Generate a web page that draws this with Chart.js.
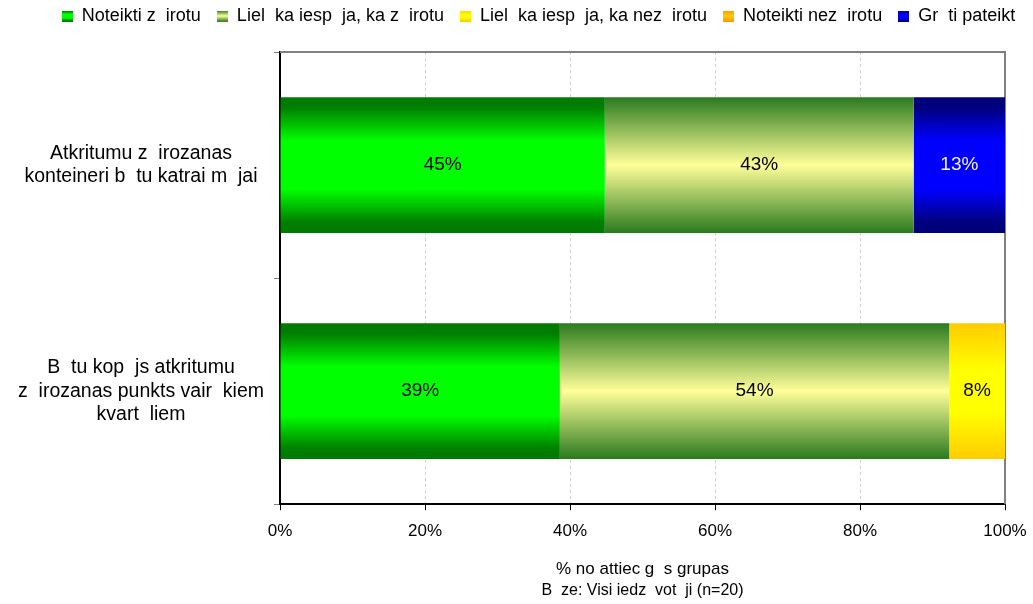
<!DOCTYPE html>
<html>
<head>
<meta charset="utf-8">
<script src="https://cdn.jsdelivr.net/npm/chart.js@4/dist/chart.umd.min.js"></script>
<style>
html,body{margin:0;padding:0;background:#fff;}
#wrap{width:1033px;height:604px;}
</style>
</head>
<body>
<div id="wrap"><canvas id="c" width="1033" height="604"></canvas></div>
<script>
const categories = [
  ["Atkritumu z  irozanas", "konteineri b  tu katrai m  jai"],
  ["B  tu kop  js atkritumu", "z  irozanas punkts vair  kiem", "kvart  liem"]
];
const seriesNames = [
  "Noteikti z  irotu",
  "Liel  ka iesp  ja, ka z  irotu",
  "Liel  ka iesp  ja, ka nez  irotu",
  "Noteikti nez  irotu",
  "Gr  ti pateikt"
];
const noteiktiZ = [44.8, 38.6];
const lielakaZ = [42.6, 53.7];
const lielakaNez = [0, 7.7];
const noteiktiNez = [0, 0];
const grutiPateikt = [12.6, 0];
const xTicks = ["0%", "20%", "40%", "60%", "80%", "100%"];
const xTitle = "% no attiec g  s grupas";
const baseNote = "B  ze: Visi iedz  vot  ji (n=20)";

const gradStops = [
  [[0,'#007800'],[0.08,'#008000'],[0.32,'#00ff00'],[0.68,'#00ff00'],[0.92,'#008000'],[1,'#007800']],
  [[0,'#2a7a1e'],[0.5,'#ffff99'],[1,'#2a7a1e']],
  [[0,'#ffcc00'],[0.35,'#ffff00'],[0.65,'#ffff00'],[1,'#ffcc00']],
  [[0,'#ff9900'],[0.5,'#ffcc00'],[1,'#ff9900']],
  [[0,'#000078'],[0.08,'#000080'],[0.32,'#0000ff'],[0.68,'#0000ff'],[0.92,'#000080'],[1,'#000078']]
];
const labelColors = ['#000','#000','#000','#000','#f0f0ff'];

function makeIcon(stops){
  const cv = document.createElement('canvas');
  cv.width = 11; cv.height = 11;
  const g = cv.getContext('2d');
  const gr = g.createLinearGradient(0,0,0,11);
  stops.forEach(s=>gr.addColorStop(s[0],s[1]));
  g.fillStyle = gr; g.fillRect(0,0,11,11);
  return cv;
}
const icons = gradStops.map(makeIcon);

const BAR_PCT = 0.6;
function barGradient(ctx, dsIdx){
  const chart = ctx.chart;
  const y = chart.scales && chart.scales.y;
  if (!y || !chart.chartArea || ctx.dataIndex === undefined) return gradStops[dsIdx][1][1];
  const c = y.getPixelForValue(ctx.dataIndex);
  const h = (chart.chartArea.bottom - chart.chartArea.top) / categories.length * BAR_PCT;
  const gr = chart.ctx.createLinearGradient(0, c - h/2, 0, c + h/2);
  gradStops[dsIdx].forEach(s=>gr.addColorStop(s[0], s[1]));
  return gr;
}

const seriesData = [noteiktiZ, lielakaZ, lielakaNez, noteiktiNez, grutiPateikt];
const datasets = seriesData.map((d,i)=>({
  label: seriesNames[i],
  data: d,
  backgroundColor: (ctx)=>barGradient(ctx,i),
  borderWidth: 0,
  barPercentage: BAR_PCT,
  categoryPercentage: 1.0
}));

const FONT = "'Liberation Sans', Arial, sans-serif";

const legendHeightPlugin = {
  id: 'legendHeight',
  beforeInit(chart){
    const lg = chart.legend;
    if (!lg) return;
    const fit = lg.fit;
    lg.fit = function(){ fit.call(this); this.height = 61; };
    const draw = lg.draw;
    lg.draw = function(){
      const c = this.ctx;
      c.save(); c.translate(22, 0); draw.call(this); c.restore();
    };
  }
};

const framePlugin = {
  id: 'frame',
  beforeDatasetsDraw(chart){
    const a = chart.chartArea, c = chart.ctx;
    c.save();
    c.strokeStyle = '#808080';
    c.lineWidth = 2;
    c.beginPath();
    c.moveTo(a.left, a.top);
    c.lineTo(a.right, a.top);
    c.lineTo(a.right, a.bottom);
    c.stroke();
    c.restore();
  },
  afterDatasetsDraw(chart){
    const c = chart.ctx;
    c.save();
    c.font = "19px " + FONT;
    c.textAlign = 'center';
    c.textBaseline = 'middle';
    chart.data.datasets.forEach((ds, i)=>{
      const meta = chart.getDatasetMeta(i);
      meta.data.forEach((bar, j)=>{
        const v = ds.data[j];
        if (!v) return;
        const x = (bar.x + bar.base) / 2;
        c.fillStyle = labelColors[i];
        c.fillText(Math.round(v) + '%', x, bar.y);
      });
    });
    c.restore();
  },
  afterDraw(chart){
    const a = chart.chartArea, c = chart.ctx;
    c.save();
    c.font = "16px " + FONT;
    c.fillStyle = '#000';
    c.textAlign = 'center';
    c.textBaseline = 'middle';
    c.fillText(baseNote, (a.left + a.right)/2, 591);
    c.restore();
  }
};

new Chart(document.getElementById('c'), {
  type: 'bar',
  data: { labels: categories, datasets },
  options: {
    indexAxis: 'y',
    responsive: false,
    animation: false,
    layout: { padding: { left: 0, right: 0, top: -9, bottom: 24 } },
    plugins: {
      legend: {
        position: 'top',
        labels: {
          usePointStyle: true,
          boxWidth: 11,
          boxHeight: 11,
          padding: 16,
          color: '#000',
          font: { family: FONT, size: 18 },
          generateLabels(chart){
            return seriesNames.map((n,i)=>({
              text: n, pointStyle: icons[i], datasetIndex: i,
              fillStyle: 'transparent', strokeStyle: 'transparent', lineWidth: 0, hidden: false
            }));
          }
        }
      },
      tooltip: { enabled: false }
    },
    scales: {
      x: {
        stacked: true,
        min: 0, max: 100,
        afterFit(scale){ scale.paddingRight = 28; },
        ticks: {
          stepSize: 20,
          color: '#000',
          font: { family: FONT, size: 17 },
          padding: 11,
          callback: (v, i) => xTicks[i]
        },
        grid: {
          color: '#d0d0d0',
          tickColor: '#000',
          tickBorderDash: [],
          tickLength: 6,
          lineWidth: 1
        },
        border: { display: true, color: '#000', width: 2, dash: [3,3] },
        title: {
          display: true,
          text: xTitle,
          color: '#000',
          font: { family: FONT, size: 17 },
          padding: { top: 7, bottom: 0 }
        }
      },
      y: {
        stacked: true,
        afterFit(scale){ scale.width = 280; },
        ticks: {
          color: '#000',
          font: { family: FONT, size: 19.5 },
          crossAlign: 'center',
          padding: 10
        },
        grid: {
          offset: true,
          drawOnChartArea: false,
          tickColor: '#808080',
          tickLength: 6
        },
        border: { display: true, color: '#000', width: 2 }
      }
    }
  },
  plugins: [legendHeightPlugin, framePlugin]
});
</script>
</body>
</html>
